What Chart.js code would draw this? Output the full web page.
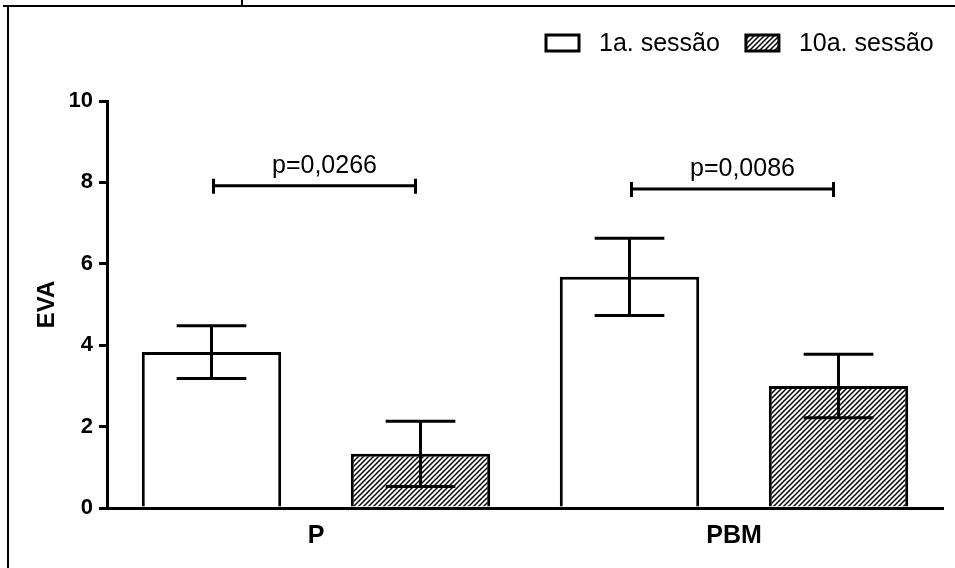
<!DOCTYPE html>
<html>
<head>
<meta charset="utf-8">
<script src="https://cdn.jsdelivr.net/npm/chart.js@4.4.0/dist/chart.umd.min.js"></script>
<style>
  body { margin: 0; background: #fff; }
  canvas { display: block; }
</style>
</head>
<body>
<canvas id="evaChart" width="955" height="568"></canvas>
<script>
// Dados
const grupos = ['P', 'PBM'];
const sessao1 = [3.83, 5.68];
const sessao10 = [1.33, 3.0];
const erro1 = [0.65, 0.95];
const erro10 = [0.8, 0.78];
const pValores = ['p=0,0266', 'p=0,0086'];
const alturaColchete = [7.92, 7.84];
const ticksY = [0, 2, 4, 6, 8, 10];

const FONTE = "'Liberation Sans', Arial, sans-serif";

// Hachura diagonal
function criarHachura() {
    const s = 5;
    const c = document.createElement('canvas');
    c.width = s; c.height = s;
    const g = c.getContext('2d');
    g.fillStyle = '#fff';
    g.fillRect(0, 0, s, s);
    g.strokeStyle = '#000';
    g.lineWidth = 1.5;
    g.beginPath();
    g.moveTo(0, s); g.lineTo(s, 0);
    g.moveTo(-1, 1); g.lineTo(1, -1);
    g.moveTo(s - 1, s + 1); g.lineTo(s + 1, s - 1);
    g.stroke();
    return g.createPattern(c, 'repeat');
}
const hachura = criarHachura();

// Moldura da figura
const moldura = {
    id: 'moldura',
    afterDraw(chart) {
        const ctx = chart.ctx;
        ctx.save();
        ctx.strokeStyle = '#000';
        ctx.lineWidth = 2;
        ctx.beginPath();
        ctx.moveTo(3, 6); ctx.lineTo(955, 6);
        ctx.moveTo(8, 6); ctx.lineTo(8, 568);
        ctx.moveTo(242, 0); ctx.lineTo(242, 6);
        ctx.stroke();
        ctx.restore();
    }
};

// Barras de erro e colchetes com p
const barrasErro = {
    id: 'barrasErro',
    afterDatasetsDraw(chart) {
        const ctx = chart.ctx;
        const y = chart.scales.y;
        const erros = [erro1, erro10];
        ctx.save();
        ctx.strokeStyle = '#000';
        ctx.lineWidth = 3;
        chart.data.datasets.forEach((ds, i) => {
            chart.getDatasetMeta(i).data.forEach((bar, j) => {
                const v = ds.data[j], e = erros[i][j];
                const yTop = y.getPixelForValue(v + e);
                const yBot = y.getPixelForValue(v - e);
                const half = bar.width / 4;
                ctx.beginPath();
                ctx.moveTo(bar.x, yTop); ctx.lineTo(bar.x, yBot);
                ctx.moveTo(bar.x - half, yTop); ctx.lineTo(bar.x + half, yTop);
                ctx.moveTo(bar.x - half, yBot); ctx.lineTo(bar.x + half, yBot);
                ctx.stroke();
            });
        });

        // colchetes
        const m0 = chart.getDatasetMeta(0).data;
        const m1 = chart.getDatasetMeta(1).data;
        ctx.font = '25px ' + FONTE;
        ctx.fillStyle = '#000';
        ctx.textAlign = 'center';
        ctx.textBaseline = 'alphabetic';
        grupos.forEach((g, j) => {
            const x0 = m0[j].x + 2, x1 = m1[j].x - 5;
            const yc = y.getPixelForValue(alturaColchete[j]);
            ctx.beginPath();
            ctx.moveTo(x0, yc); ctx.lineTo(x1, yc);
            ctx.moveTo(x0, yc - 7); ctx.lineTo(x0, yc + 8);
            ctx.moveTo(x1, yc - 7); ctx.lineTo(x1, yc + 8);
            ctx.stroke();
            ctx.fillText(pValores[j], (x0 + x1) / 2 + 10, yc - 13);
        });
        ctx.restore();
    }
};

// Legenda
const legenda = {
    id: 'legenda',
    afterDraw(chart) {
        const ctx = chart.ctx;
        ctx.save();
        ctx.font = '25px ' + FONTE;
        ctx.textAlign = 'left';
        ctx.textBaseline = 'middle';
        let x = 546;
        chart.data.datasets.forEach(ds => {
            ctx.fillStyle = ds.backgroundColor;
            ctx.fillRect(x, 35, 33, 16);
            ctx.strokeStyle = '#000';
            ctx.lineWidth = 3;
            ctx.strokeRect(x, 35, 33, 16);
            ctx.fillStyle = '#000';
            ctx.fillText(ds.label, x + 53, 44);
            x += 53 + ctx.measureText(ds.label).width + 26;
        });
        ctx.restore();
    }
};

const ctx = document.getElementById('evaChart').getContext('2d');
new Chart(ctx, {
    type: 'bar',
    data: {
        labels: grupos,
        datasets: [
            {
                label: '1a. sessão',
                data: sessao1,
                backgroundColor: '#fff',
                borderColor: '#000',
                borderWidth: 3
            },
            {
                label: '10a. sessão',
                data: sessao10,
                backgroundColor: hachura,
                borderColor: '#000',
                borderWidth: 3
            }
        ]
    },
    options: {
        responsive: false,
        animation: false,
        devicePixelRatio: 1,
        categoryPercentage: 1.0,
        barPercentage: 0.667,
        layout: { padding: { top: 101, right: 12, bottom: 0, left: 0 } },
        plugins: {
            legend: { display: false },
            tooltip: { enabled: false }
        },
        scales: {
            x: {
                grid: { display: false },
                border: { display: true, color: '#000', width: 3 },
                ticks: {
                    color: '#000',
                    padding: 5,
                    font: { family: FONTE, size: 25, weight: 'bold' }
                },
                afterFit: s => { s.height = 60; }
            },
            y: {
                min: 0,
                max: 10,
                afterBuildTicks: s => { s.ticks = ticksY.map(v => ({ value: v })); },
                grid: {
                    display: true,
                    drawOnChartArea: false,
                    drawTicks: true,
                    tickLength: 8,
                    color: '#000',
                    lineWidth: 3
                },
                border: { display: true, color: '#000', width: 3 },
                ticks: {
                    color: '#000',
                    padding: 6,
                    font: { family: FONTE, size: 22, weight: 'bold' }
                },
                title: {
                    display: true,
                    text: 'EVA',
                    color: '#000',
                    padding: { top: 33, bottom: 0 },
                    font: { family: FONTE, size: 24, weight: 'bold' }
                },
                afterFit: s => { s.width = 107; }
            }
        }
    },
    plugins: [barrasErro, legenda, moldura]
});
</script>
</body>
</html>
